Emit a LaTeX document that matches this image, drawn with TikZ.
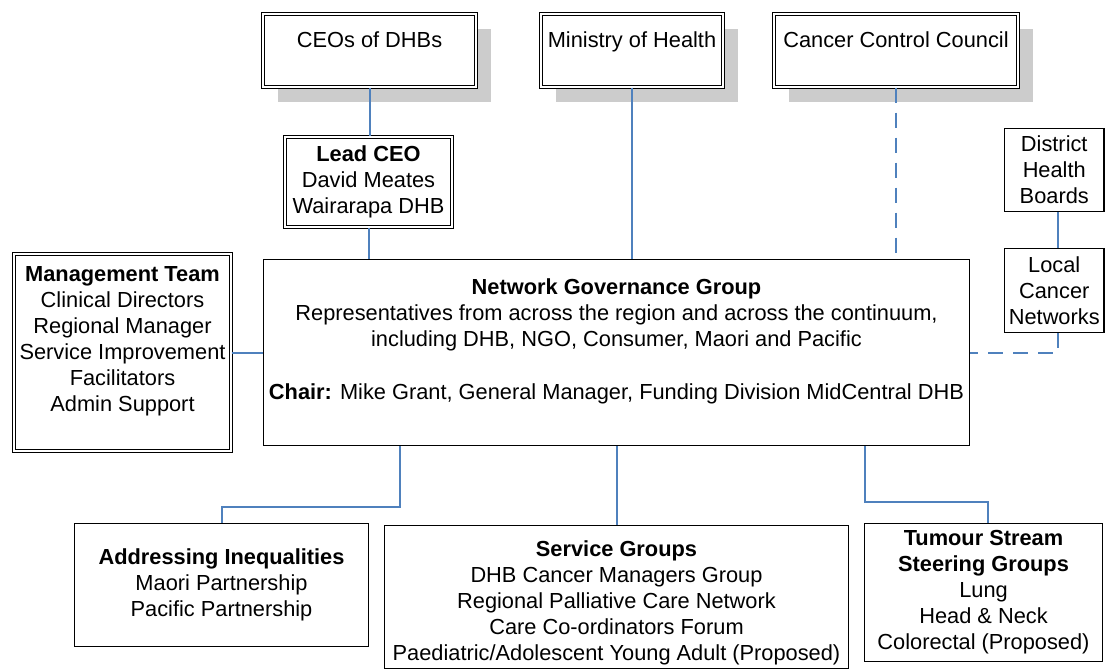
\documentclass[tikz,border=0pt]{standalone}
\usepackage{fontspec}
\setmainfont{Liberation Sans}
\usetikzlibrary{shadows}
\definecolor{linkblue}{RGB}{79,129,189}
\definecolor{shadegray}{RGB}{204,204,204}
\begin{document}
\begin{tikzpicture}[x=1pt,y=-1pt,
  box/.style={draw=black, line width=1.2pt, fill=white, inner sep=0pt, align=center, font=\fontsize{21.8}{26}\selectfont},
  dbox/.style={box, double=white, double distance=1.8pt, line width=0.9pt},
  sbox/.style={dbox, general shadow={fill=shadegray, shadow xshift=15pt, shadow yshift=-15pt}},
  txt/.style={inner sep=0pt, align=center, font=\fontsize{21.8}{26}\selectfont},
  link/.style={draw=linkblue, line width=2pt},
  dlink/.style={link, dash pattern=on 15pt off 10pt}]
\useasboundingbox (0,0) rectangle (1106,671);

% top boxes
\node[sbox, minimum width=213.5pt, minimum height=73.5pt] (ceo) at (369.5,50.5) {};
\node[sbox, minimum width=182.5pt, minimum height=73.5pt] (moh) at (632,50.5) {};
\node[sbox, minimum width=244.5pt, minimum height=73.5pt] (ccc) at (896,50.5) {};
\node[txt, anchor=base] (ceoT) at (369.5,47.5) {CEOs of DHBs};
\node[txt, anchor=base] (mohT) at (632,47.5) {Ministry of Health};
\node[txt, anchor=base] (cccT) at (896,47.5) {Cancer Control Council};

% lead CEO
\node[dbox, minimum width=167.5pt, minimum height=90.5pt] (lead) at (368.5,182)
  {\textbf{Lead CEO}\\David Meates\\Wairarapa DHB};

% management team
\node[dbox, minimum width=217.5pt, minimum height=197.5pt] (mgmt) at (122.5,352.5) {};
\node[txt] (mgmtT) at (122.5,341.5)
  {\textbf{Management Team}\\Clinical Directors\\Regional Manager\\Service Improvement\\Facilitators\\Admin Support};

% network governance group
\node[box, minimum width=705.8pt, minimum height=185.8pt] (ngg) at (616.5,352.5) {};
\node[txt] (nggT) at (616.5,341.8)
  {\textbf{Network Governance Group}\\Representatives from across the region and across the continuum,\\including DHB, NGO, Consumer, Maori and Pacific\\[27pt]\textbf{Chair:} Mike Grant, General Manager, Funding Division MidCentral DHB};

% right side
\node[box, minimum width=99.3pt, minimum height=82.8pt] (dhb) at (1054.25,170) {District\\Health\\Boards};
\node[box, minimum width=99.3pt, minimum height=83.8pt] (lcn) at (1054.25,290.5) {Local\\Cancer\\Networks};

% bottom boxes
\node[box, minimum width=293.8pt, minimum height=122.8pt] (addr) at (221.5,585)
  {\textbf{Addressing Inequalities}\\Maori Partnership\\Pacific Partnership};
\node[box, minimum width=463.8pt, minimum height=142.8pt] (serv) at (616.5,597) {};
\node[txt] (servT) at (616.5,602.5)
  {\textbf{Service Groups}\\DHB Cancer Managers Group\\Regional Palliative Care Network\\Care Co-ordinators Forum\\Paediatric/Adolescent Young Adult (Proposed)};
\node[box, minimum width=237.8pt, minimum height=137.8pt] (tum) at (983.5,592.5)
  {\textbf{Tumour Stream}\\\textbf{Steering Groups}\\Lung\\Head \& Neck\\Colorectal (Proposed)};

% helper coordinates
\coordinate (d1) at (1058,0);
\coordinate (a1) at (400,507);
\coordinate (t1) at (865,502);
\coordinate (t2) at (988,0);

% connectors
\draw[link] (ceo.south) -- (ceo.south |- lead.north);
\draw[link] (lead.south) -- (lead.south |- ngg.north);
\draw[link] (moh.south) -- (moh.south |- ngg.north);
\draw[dlink] (ccc.south) -- (ccc.south |- ngg.north);
\draw[link] (mgmt.east) -- (ngg.west);
\draw[link] (dhb.south -| d1) -- (lcn.north -| d1);
\draw[dlink] (lcn.south -| d1) |- (ngg.east);
\draw[link] (a1 |- ngg.south) -- (a1) -| (addr.north);
\draw[link] (ngg.south) -- (serv.north);
\draw[link] (t1 |- ngg.south) -- (t1) -| (t2 |- tum.north);
\end{tikzpicture}
\end{document}
